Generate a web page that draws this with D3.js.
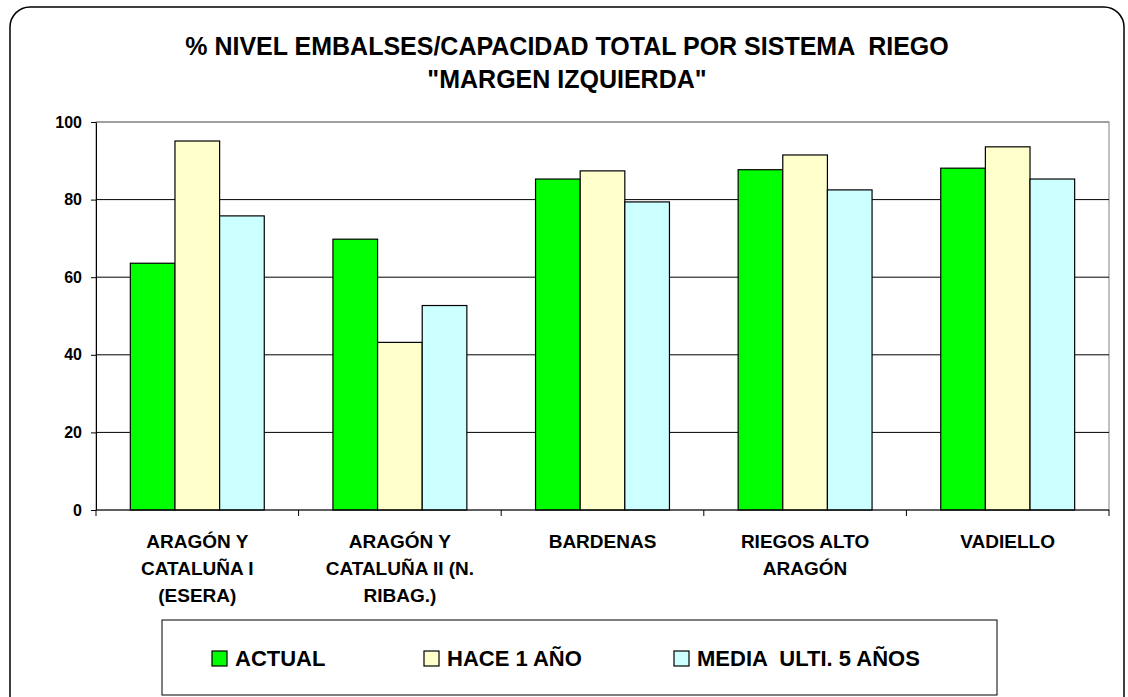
<!DOCTYPE html>
<html>
<head>
<meta charset="utf-8">
<script src="https://cdn.jsdelivr.net/npm/d3@7"></script>
<style>
  body { margin: 0; background: #fff; }
  text { font-family: Arial, "Liberation Sans", sans-serif; font-weight: bold; fill: #000; white-space: pre; }
</style>
</head>
<body>
<svg id="chart" width="1128" height="697"></svg>
<script>
// datos
const categories = [
  ["ARAGÓN Y", "CATALUÑA I", "(ESERA)"],
  ["ARAGÓN Y", "CATALUÑA II (N.", "RIBAG.)"],
  ["BARDENAS"],
  ["RIEGOS ALTO", "ARAGÓN"],
  ["VADIELLO"]
];
const seriesNames = ["ACTUAL", "HACE 1 AÑO", "MEDIA  ULTI. 5 AÑOS"];
const actual = [63.6, 69.8, 85.3, 87.7, 88.1];
const hace1 = [95.1, 43.2, 87.4, 91.5, 93.6];
const media5 = [75.8, 52.7, 79.4, 82.5, 85.3];
const yTicks = [0, 20, 40, 60, 80, 100];
const titleLines = ["% NIVEL EMBALSES/CAPACIDAD TOTAL POR SISTEMA  RIEGO", "\"MARGEN IZQUIERDA\""];

const colors = ["#00ff00", "#ffffcc", "#ccffff"];
const values = [actual, hace1, media5];

const svg = d3.select("#chart");

// marco exterior redondeado
svg.append("rect")
  .attr("x", 10).attr("y", 7)
  .attr("width", 1114).attr("height", 720)
  .attr("rx", 20).attr("ry", 20)
  .attr("fill", "#fff")
  .attr("stroke", "#000")
  .attr("stroke-width", 1.5);

// titulo
const title = svg.append("text")
  .attr("text-anchor", "middle")
  .style("font-size", "25px");
titleLines.forEach((t, i) => {
  title.append("tspan")
    .attr("x", 567)
    .attr("y", 55 + i * 33)
    .text(t);
});

const plot = { left: 96, right: 1109, top: 122, bottom: 510 };

const y = d3.scaleLinear()
  .domain([0, 100])
  .range([plot.bottom, plot.top]);

const x0 = d3.scaleBand()
  .domain(d3.range(categories.length))
  .range([plot.left, plot.right])
  .paddingInner(0.339)
  .paddingOuter(0.1695);

const x1 = d3.scaleBand()
  .domain(d3.range(seriesNames.length))
  .range([0, x0.bandwidth()]);

// borde del area de trazado (gris)
svg.append("rect")
  .attr("x", plot.left).attr("y", plot.top)
  .attr("width", plot.right - plot.left)
  .attr("height", plot.bottom - plot.top)
  .attr("fill", "none")
  .attr("stroke", "#808080")
  .attr("stroke-width", 1);

// lineas de division
svg.append("g")
  .selectAll("line")
  .data(yTicks.filter(d => d > 0))
  .enter().append("line")
  .attr("x1", plot.left).attr("x2", plot.right)
  .attr("y1", d => y(d)).attr("y2", d => y(d))
  .attr("stroke", d => d === 100 ? "#808080" : "#000")
  .attr("stroke-width", 1);

// barras
categories.forEach((c, i) => {
  const g = svg.append("g").attr("transform", `translate(${x0(i)},0)`);
  values.forEach((serie, s) => {
    g.append("rect")
      .attr("x", x1(s))
      .attr("y", y(serie[i]))
      .attr("width", x1.bandwidth())
      .attr("height", y(0) - y(serie[i]))
      .attr("fill", colors[s])
      .attr("stroke", "#000")
      .attr("stroke-width", 1.2);
  });
});

// eje Y
svg.append("g")
  .attr("transform", `translate(${plot.left},0)`)
  .call(d3.axisLeft(y).tickValues(yTicks).tickSize(5).tickPadding(9).tickSizeOuter(0))
  .call(g => g.selectAll(".domain, .tick line").attr("stroke", "#000"))
  .call(g => g.selectAll(".tick text")
    .style("font-size", "16px")
    .style("font-family", "Arial, 'Liberation Sans', sans-serif")
    .style("font-weight", "bold")
    .attr("fill", "#000"));

// eje X
const step = x0.step();
const boundaries = d3.range(categories.length + 1).map(i => plot.left + i * step);
svg.append("line")
  .attr("x1", plot.left).attr("x2", plot.right)
  .attr("y1", plot.bottom).attr("y2", plot.bottom)
  .attr("stroke", "#000");
svg.append("g")
  .selectAll("line")
  .data(boundaries)
  .enter().append("line")
  .attr("x1", d => d).attr("x2", d => d)
  .attr("y1", plot.bottom).attr("y2", plot.bottom + 6)
  .attr("stroke", "#000");

categories.forEach((lines, i) => {
  const t = svg.append("text")
    .attr("text-anchor", "middle")
    .style("font-size", "19px");
  lines.forEach((l, j) => {
    t.append("tspan")
      .attr("x", x0(i) + x0.bandwidth() / 2)
      .attr("y", 548 + j * 27)
      .text(l);
  });
});

// leyenda
svg.append("rect")
  .attr("x", 162).attr("y", 620)
  .attr("width", 835).attr("height", 75)
  .attr("fill", "#fff")
  .attr("stroke", "#000")
  .attr("stroke-width", 1);

const legendX = [212, 424, 674];
seriesNames.forEach((name, i) => {
  const item = svg.append("g").attr("transform", `translate(${legendX[i]},651)`);
  item.append("rect")
    .attr("width", 15).attr("height", 15)
    .attr("fill", colors[i])
    .attr("stroke", "#000")
    .attr("stroke-width", 1.2);
  item.append("text")
    .attr("x", 23).attr("y", 15)
    .style("font-size", "22px")
    .text(name);
});
</script>
</body>
</html>
